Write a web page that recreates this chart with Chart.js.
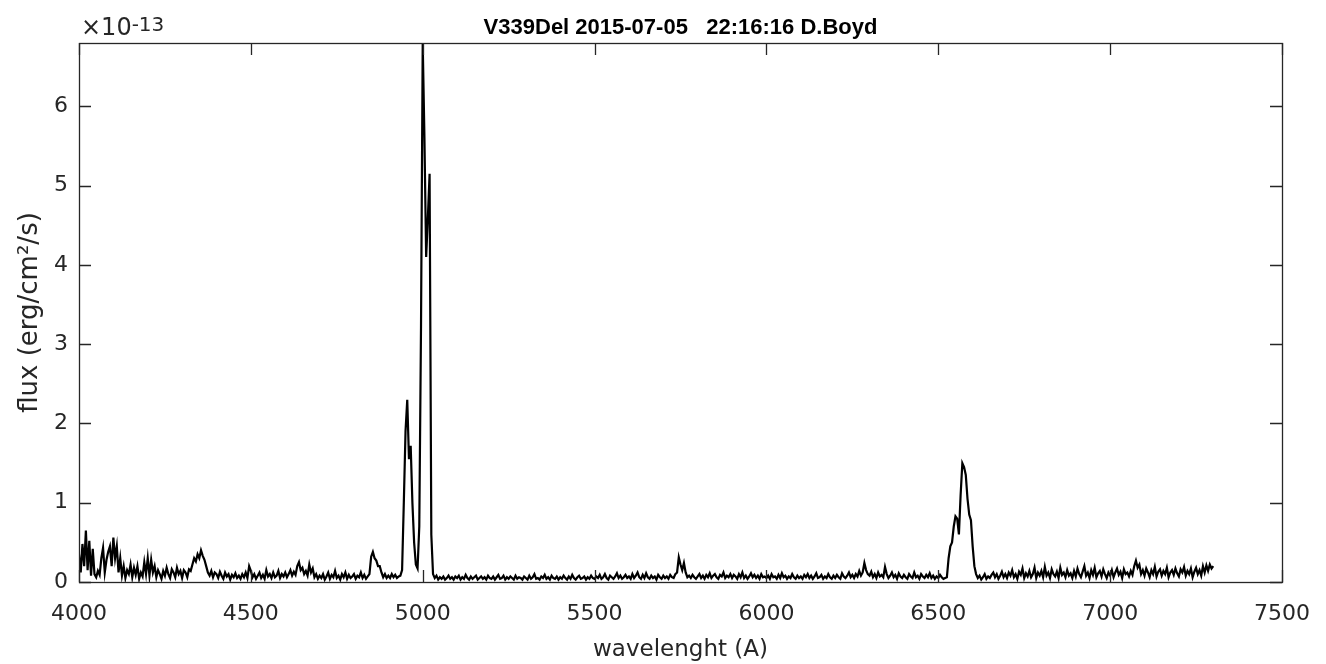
<!DOCTYPE html>
<html>
<head>
<meta charset="utf-8">
<title>V339Del spectrum</title>
<script src="https://cdn.jsdelivr.net/npm/chart.js@4"></script>
<style>
  body { margin: 0; background: #fff; }
  #wrap { position: relative; width: 1326px; height: 664px; }
  #title { position: absolute; left: 0; width: 1361px; top: 16px; text-align: center;
           font: bold 22px "Liberation Sans", Arial, sans-serif; line-height: 22px; color: #000; white-space: pre; }
  #expo { position: absolute; left: 81px; top: 15px; font: 24px "DejaVu Sans", sans-serif; line-height: 24px; color: #262626; }
  #expo sup { font-size: 20px; position: relative; top: -4px; vertical-align: baseline; }
</style>
</head>
<body>
<div id="wrap">
  <canvas id="chart" width="1326" height="664"></canvas>
  <div id="title">V339Del 2015-07-05   22:16:16 D.Boyd</div>
  <div id="expo">×10<sup>-13</sup></div>
</div>
<script>
// wavelength grid of the spectrum (Angstrom)
const lambdaStart = 4000;
const lambdaStep = 5;

// flux in units of 1e-13 erg/cm2/s, one row per 100 A
const flux = [
  0.35,0.12,0.48,0.2,0.65,0.15,0.52,0.08,0.42,0.1,0.06,0.14,0.09,0.3,0.43,0.12,0.28,0.38,0.45,0.2,   // 4000
  0.56,0.3,0.45,0.12,0.3,0.08,0.2,0.05,0.15,0.1,0.22,0.06,0.18,0.09,0.2,0.04,0.12,0.07,0.25,0.1,     // 4100
  0.3,0.08,0.28,0.12,0.2,0.06,0.15,0.1,0.04,0.14,0.08,0.18,0.1,0.05,0.16,0.12,0.06,0.18,0.1,0.14,    // 4200
  0.05,0.15,0.12,0.06,0.16,0.14,0.22,0.3,0.26,0.35,0.3,0.4,0.33,0.28,0.2,0.12,0.08,0.14,0.06,0.12,   // 4300
  0.1,0.05,0.13,0.08,0.04,0.12,0.07,0.1,0.03,0.09,0.06,0.11,0.05,0.08,0.04,0.1,0.06,0.12,0.05,0.2,   // 4400
  0.14,0.06,0.1,0.04,0.08,0.12,0.05,0.09,0.04,0.15,0.07,0.1,0.05,0.12,0.06,0.08,0.14,0.05,0.1,0.07,  // 4500
  0.12,0.06,0.1,0.15,0.08,0.13,0.09,0.2,0.25,0.15,0.18,0.1,0.14,0.08,0.22,0.12,0.17,0.06,0.1,0.04,   // 4600
  0.08,0.05,0.1,0.03,0.07,0.12,0.04,0.09,0.06,0.14,0.05,0.08,0.03,0.1,0.06,0.12,0.04,0.09,0.05,0.07, // 4700
  0.1,0.04,0.08,0.06,0.12,0.05,0.09,0.04,0.07,0.1,0.32,0.38,0.3,0.27,0.2,0.2,0.12,0.06,0.1,0.05,     // 4800
  0.08,0.05,0.1,0.06,0.09,0.05,0.07,0.08,0.15,1.0,1.9,2.3,1.55,1.72,1.0,0.5,0.22,0.17,0.7,3.2,       // 4900
  6.8,5.6,4.1,4.6,5.15,0.6,0.1,0.05,0.08,0.03,0.06,0.04,0.07,0.03,0.05,0.08,0.04,0.06,0.03,0.07,     // 5000
  0.05,0.08,0.03,0.06,0.04,0.09,0.05,0.03,0.07,0.04,0.06,0.08,0.03,0.05,0.07,0.04,0.06,0.03,0.08,0.05, // 5100
  0.04,0.07,0.03,0.06,0.09,0.04,0.05,0.08,0.03,0.06,0.04,0.07,0.05,0.03,0.08,0.04,0.06,0.05,0.03,0.07, // 5200
  0.05,0.03,0.08,0.04,0.06,0.1,0.04,0.05,0.03,0.07,0.05,0.09,0.04,0.06,0.03,0.08,0.05,0.04,0.07,0.03,  // 5300
  0.06,0.04,0.08,0.05,0.03,0.07,0.04,0.09,0.05,0.03,0.06,0.08,0.04,0.05,0.07,0.03,0.06,0.04,0.08,0.05, // 5400
  0.04,0.07,0.05,0.09,0.04,0.06,0.1,0.05,0.03,0.08,0.06,0.04,0.07,0.11,0.05,0.08,0.04,0.06,0.09,0.05,  // 5500
  0.07,0.04,0.1,0.05,0.08,0.12,0.06,0.04,0.09,0.05,0.11,0.06,0.04,0.08,0.05,0.07,0.03,0.09,0.06,0.04,  // 5600
  0.08,0.05,0.07,0.04,0.09,0.06,0.05,0.1,0.12,0.31,0.22,0.15,0.24,0.12,0.06,0.08,0.05,0.09,0.06,0.04,  // 5700
  0.07,0.1,0.05,0.08,0.04,0.09,0.06,0.11,0.05,0.08,0.1,0.06,0.04,0.09,0.07,0.12,0.05,0.08,0.06,0.1,    // 5800
  0.05,0.09,0.07,0.04,0.1,0.06,0.12,0.05,0.08,0.04,0.07,0.11,0.06,0.09,0.05,0.08,0.04,0.1,0.06,0.07,   // 5900
  0.05,0.08,0.04,0.1,0.06,0.07,0.04,0.09,0.05,0.11,0.06,0.08,0.04,0.07,0.05,0.1,0.06,0.04,0.08,0.05,   // 6000
  0.07,0.04,0.09,0.06,0.1,0.05,0.08,0.04,0.07,0.11,0.05,0.06,0.09,0.04,0.07,0.05,0.1,0.06,0.04,0.08,   // 6100
  0.05,0.09,0.06,0.04,0.11,0.07,0.05,0.08,0.12,0.06,0.09,0.05,0.1,0.07,0.14,0.08,0.12,0.24,0.15,0.1,   // 6200
  0.08,0.13,0.06,0.1,0.05,0.12,0.07,0.09,0.06,0.19,0.1,0.05,0.08,0.12,0.06,0.09,0.04,0.11,0.07,0.05,   // 6300
  0.09,0.06,0.04,0.1,0.07,0.05,0.12,0.06,0.08,0.04,0.1,0.07,0.05,0.09,0.06,0.11,0.05,0.08,0.04,0.07,   // 6400
  0.05,0.09,0.06,0.04,0.05,0.06,0.3,0.45,0.5,0.7,0.83,0.8,0.6,1.1,1.5,1.45,1.35,1.05,0.85,0.78,        // 6500
  0.45,0.2,0.1,0.05,0.08,0.03,0.06,0.1,0.04,0.07,0.05,0.09,0.12,0.06,0.1,0.04,0.08,0.13,0.06,0.1,      // 6600
  0.05,0.12,0.08,0.15,0.06,0.1,0.04,0.13,0.09,0.17,0.05,0.11,0.07,0.14,0.06,0.1,0.18,0.05,0.12,0.08,   // 6700
  0.14,0.06,0.19,0.08,0.12,0.05,0.16,0.1,0.07,0.13,0.05,0.18,0.09,0.12,0.06,0.15,0.08,0.11,0.05,0.14,  // 6800
  0.07,0.17,0.1,0.06,0.13,0.2,0.08,0.12,0.05,0.15,0.09,0.18,0.06,0.11,0.14,0.07,0.16,0.1,0.05,0.12,    // 6900
  0.08,0.15,0.06,0.12,0.17,0.09,0.13,0.05,0.16,0.1,0.12,0.07,0.14,0.09,0.2,0.27,0.18,0.22,0.1,0.15,    // 7000
  0.08,0.17,0.12,0.06,0.15,0.1,0.19,0.07,0.13,0.16,0.08,0.14,0.1,0.18,0.06,0.12,0.15,0.09,0.17,0.11,   // 7100
  0.07,0.16,0.12,0.19,0.08,0.14,0.1,0.17,0.06,0.13,0.18,0.1,0.15,0.08,0.2,0.12,0.21,0.14,0.22,0.17,    // 7200
  0.2                                                                                                   // 7300
];

const xTicks = [4000, 4500, 5000, 5500, 6000, 6500, 7000, 7500];
const yTicks = [0, 1, 2, 3, 4, 5, 6];
const xLabel = "wavelenght (A)";
const yLabel = "flux (erg/cm²/s)";

const axisColor = "#262626";
Chart.defaults.font.family = '"DejaVu Sans", sans-serif';
Chart.defaults.color = axisColor;

const points = flux.map((v, i) => ({ x: lambdaStart + i * lambdaStep, y: v }));

// MATLAB style box with inward ticks on all four sides
const boxPlugin = {
  id: "box",
  afterDatasetsDraw(chart) {
    const { ctx, chartArea: a, scales } = chart;
    const len = 12;
    ctx.save();
    ctx.strokeStyle = axisColor;
    ctx.lineWidth = 1.3;
    ctx.beginPath();
    xTicks.forEach(t => {
      const px = Math.round(scales.x.getPixelForValue(t)) + 0.5;
      ctx.moveTo(px, a.bottom); ctx.lineTo(px, a.bottom - len);
      ctx.moveTo(px, a.top); ctx.lineTo(px, a.top + len);
    });
    yTicks.forEach(t => {
      const py = Math.round(scales.y.getPixelForValue(t)) + 0.5;
      ctx.moveTo(a.left, py); ctx.lineTo(a.left + len, py);
      ctx.moveTo(a.right, py); ctx.lineTo(a.right - len, py);
    });
    ctx.stroke();
    ctx.strokeRect(a.left + 0.5, a.top + 0.5, a.right - a.left, a.bottom - a.top);
    ctx.restore();
  }
};

new Chart(document.getElementById("chart"), {
  type: "line",
  data: {
    datasets: [{
      data: points,
      borderColor: "#000",
      borderWidth: 2.2,
      pointRadius: 0,
      tension: 0,
      fill: false
    }]
  },
  options: {
    responsive: false,
    animation: false,
    events: [],
    layout: { padding: { left: 0, top: 43, right: 44, bottom: 0 } },
    plugins: { legend: { display: false }, tooltip: { enabled: false }, title: { display: false } },
    scales: {
      x: {
        type: "linear",
        min: 4000,
        max: 7500,
        afterBuildTicks: s => { s.ticks = xTicks.map(v => ({ value: v })); },
        afterFit: s => { s.height = 82; s.paddingLeft = 0; s.paddingRight = 0; },
        grid: { display: false, drawTicks: false },
        border: { display: false },
        ticks: { padding: 19, font: { size: 22 }, color: axisColor, maxRotation: 0, autoSkip: false,
                 callback: v => String(v) },
        title: { display: true, text: xLabel, font: { size: 23 }, color: axisColor, padding: { top: 0, bottom: 0 } }
      },
      y: {
        type: "linear",
        min: 0,
        max: 6.8,
        afterBuildTicks: s => { s.ticks = yTicks.map(v => ({ value: v })); },
        afterFit: s => { s.width = 79; },
        grid: { display: false, drawTicks: false },
        border: { display: false },
        ticks: { padding: 11, font: { size: 22 }, color: axisColor, callback: v => String(v) },
        title: { display: true, text: yLabel, font: { size: 26 }, color: axisColor, padding: { top: 15, bottom: 0 } }
      }
    }
  },
  plugins: [boxPlugin]
});
</script>
</body>
</html>
